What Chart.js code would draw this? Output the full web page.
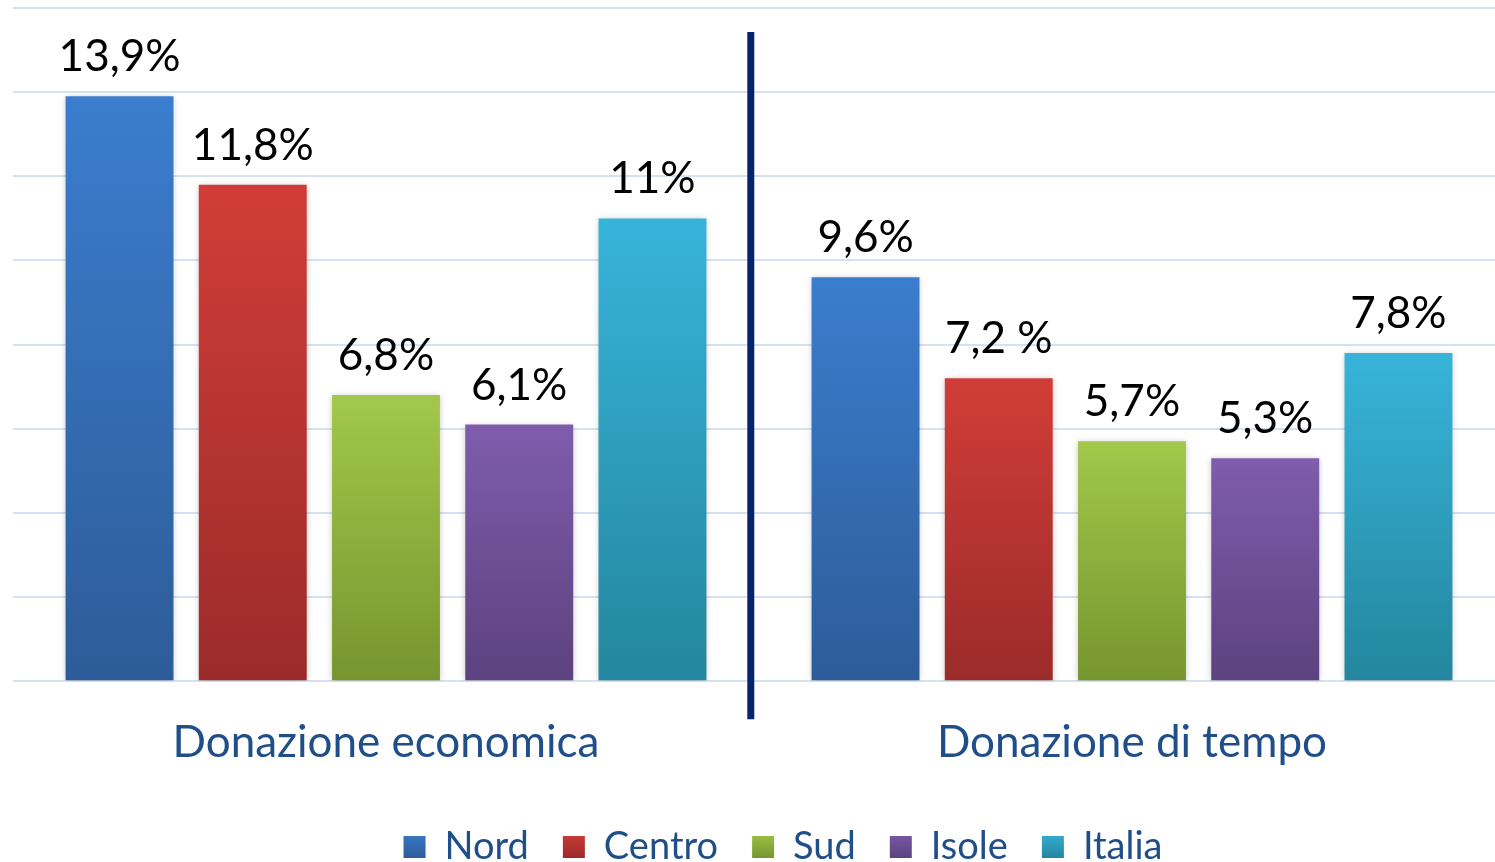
<!DOCTYPE html>
<html>
<head>
<meta charset="utf-8">
<script src="https://cdn.jsdelivr.net/npm/chart.js@4/dist/chart.umd.min.js"></script>
<style>
  html, body { margin: 0; padding: 0; background: #fff; overflow: hidden; }
  #wrap { width: 1505px; height: 862px; position: relative; }
</style>
</head>
<body>
<div id="wrap"><canvas id="chart"></canvas></div>
<script>
// data
const categories = ['Donazione economica', 'Donazione di tempo'];
const seriesNames = ['Nord', 'Centro', 'Sud', 'Isole', 'Italia'];
const nordValues = [13.9, 9.6];
const centroValues = [11.8, 7.2];
const sudValues = [6.8, 5.7];
const isoleValues = [6.1, 5.3];
const italiaValues = [11.0, 7.8];
const nordLabels = ['13,9%', '9,6%'];
const centroLabels = ['11,8%', '7,2 %'];
const sudLabels = ['6,8%', '5,7%'];
const isoleLabels = ['6,1%', '5,3%'];
const italiaLabels = ['11%', '7,8%'];
const yTicks = [0, 2, 4, 6, 8, 10, 12, 14, 16];

// top / bottom colours of each bar gradient
const colours = [
    ['#3B7DCE', '#2D5C98'],
    ['#D13D38', '#9B2B2A'],
    ['#A2C84B', '#76952F'],
    ['#7F5CAD', '#5C427E'],
    ['#37B4DA', '#24869E']
];

const textBlue = '#1F4E89';
const fontName = 'Lato';

function barFill(i) {
    return (ctx) => {
        const chart = ctx.chart;
        if (!chart.chartArea || ctx.dataIndex === undefined) return colours[i][0];
        const y = chart.scales.y;
        const top = y.getPixelForValue(ctx.raw);
        const bottom = y.getPixelForValue(0);
        const g = chart.ctx.createLinearGradient(0, top, 0, bottom);
        g.addColorStop(0, colours[i][0]);
        g.addColorStop(1, colours[i][1]);
        return g;
    };
}

const allValues = [nordValues, centroValues, sudValues, isoleValues, italiaValues];
const allLabels = [nordLabels, centroLabels, sudLabels, isoleLabels, italiaLabels];

const datasets = seriesNames.map((name, i) => ({
    label: name,
    data: allValues[i],
    valueLabels: allLabels[i],
    backgroundColor: barFill(i),
    borderWidth: 0,
    categoryPercentage: 0.893,
    barPercentage: 0.81
}));

// shadow behind bars
const barShadow = {
    id: 'barShadow',
    beforeDatasetsDraw(chart) {
        const c = chart.ctx;
        c.save();
        c.shadowColor = 'rgba(0,0,0,0.22)';
        c.shadowBlur = 6;
        c.shadowOffsetY = 1;
    },
    afterDatasetsDraw(chart) {
        chart.ctx.restore();
    }
};

// value labels above bars + divider line, legend nudged right like the original
const extras = {
    id: 'extras',
    afterLayout(chart) {
        chart.legend.left += 24;
        chart.legend.right += 24;
    },
    afterDraw(chart) {
        const c = chart.ctx;
        c.save();
        c.font = '44px ' + fontName;
        c.fillStyle = '#000';
        c.textAlign = 'center';
        c.textBaseline = 'alphabetic';
        chart.data.datasets.forEach((ds, i) => {
            chart.getDatasetMeta(i).data.forEach((bar, j) => {
                c.fillText(ds.valueLabels[j], bar.x, bar.y - 25);
            });
        });
        const x = chart.scales.x.getPixelForValue(0.489);
        c.strokeStyle = '#06246A';
        c.lineWidth = 7;
        c.beginPath();
        c.moveTo(x, chart.scales.y.getPixelForValue(15.43));
        c.lineTo(x, chart.chartArea.bottom + 38);
        c.stroke();
        c.restore();
    }
};

new Chart(document.getElementById('chart'), {
    type: 'bar',
    data: { labels: categories, datasets: datasets },
    options: {
        responsive: true,
        maintainAspectRatio: false,
        animation: false,
        layout: { padding: { left: 13, right: 0, top: 8, bottom: -14 } },
        plugins: {
            legend: {
                position: 'bottom',
                labels: {
                    boxWidth: 22,
                    boxHeight: 22,
                    padding: 34,
                    color: textBlue,
                    font: { family: fontName, size: 38 },
                    generateLabels: (chart) => {
                        const items = Chart.defaults.plugins.legend.labels.generateLabels(chart);
                        items.forEach((it, i) => {
                            const g = chart.ctx.createLinearGradient(0, 830, 0, 858);
                            g.addColorStop(0, colours[i][0]);
                            g.addColorStop(1, colours[i][1]);
                            it.fillStyle = g;
                            it.lineWidth = 0;
                        });
                        return items;
                    }
                }
            },
            tooltip: { enabled: false }
        },
        scales: {
            y: {
                min: 0,
                max: 16,
                afterBuildTicks: (axis) => { axis.ticks = yTicks.map(v => ({ value: v })); },
                ticks: { display: false },
                border: { display: false },
                grid: { color: '#D6E2F1', lineWidth: 2, drawTicks: false }
            },
            x: {
                grid: { display: false },
                border: { display: false },
                afterFit: (axis) => { axis.height -= 2; },
                ticks: {
                    color: textBlue,
                    padding: 27,
                    font: { family: fontName, size: 44 }
                }
            }
        }
    },
    plugins: [barShadow, extras]
});
</script>
</body>
</html>
